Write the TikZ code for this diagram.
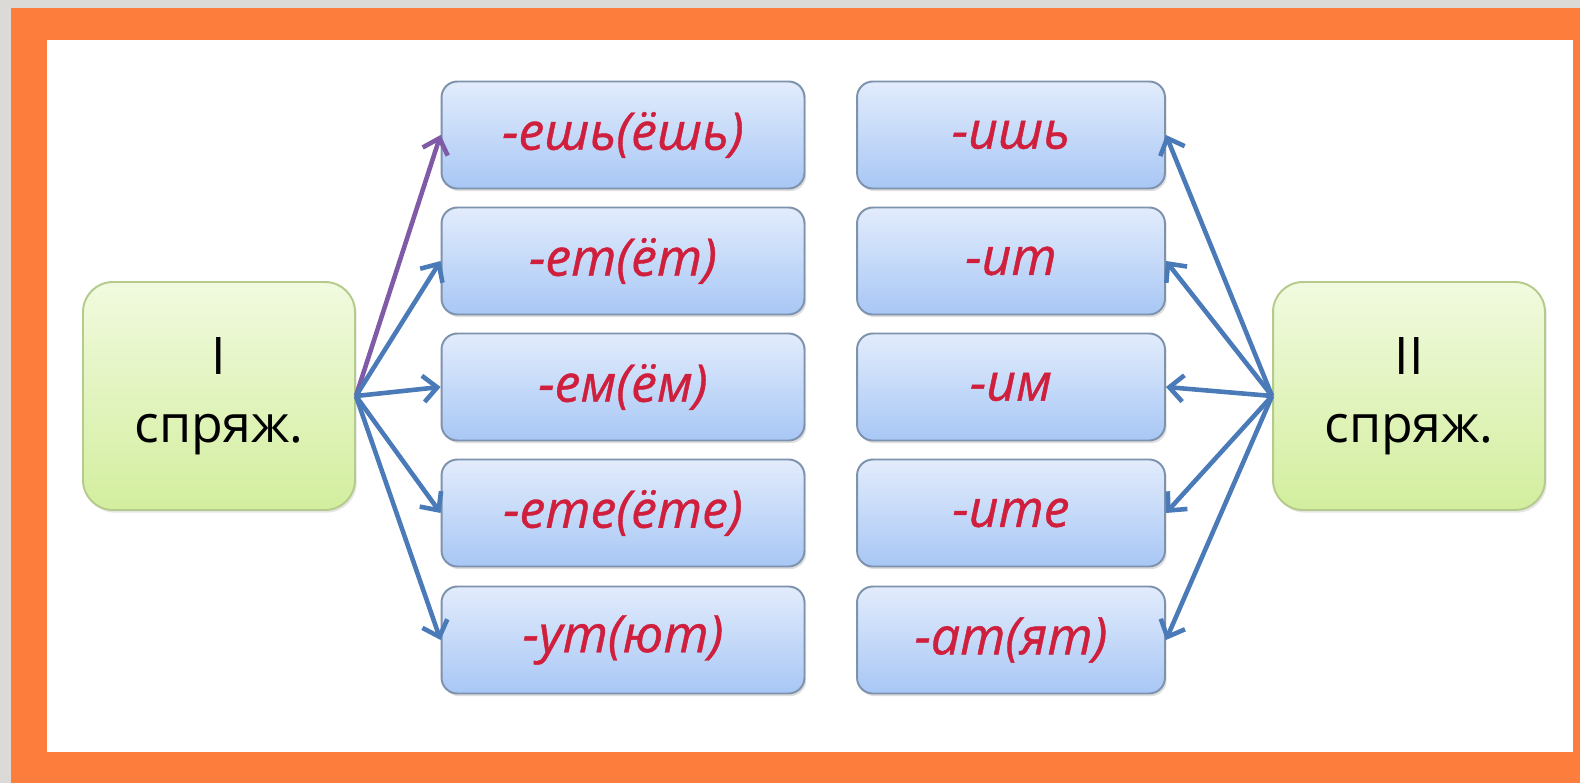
\documentclass[tikz,border=0pt]{standalone}
\usepackage{fontspec}
\setmainfont{Open Sans}
\newfontfamily\endingfont{Open Sans}[FakeBold=0.8]
\usetikzlibrary{arrows.meta,shadows}
\definecolor{bggray}{HTML}{DCDAD6}
\definecolor{frameorange}{HTML}{FD7E3C}
\definecolor{boxtop}{HTML}{E2ECFC}
\definecolor{boxbot}{HTML}{A8C7F5}
\definecolor{boxline}{HTML}{7D92AD}
\definecolor{greentop}{HTML}{F1FADF}
\definecolor{greenbot}{HTML}{D3EE9E}
\definecolor{greenline}{HTML}{B4CB8C}
\definecolor{endred}{HTML}{CF1F3C}
\definecolor{arrowblue}{HTML}{4A7AB7}
\definecolor{arrowpurple}{HTML}{7F5AA6}
\begin{document}
\begin{tikzpicture}[x=0.02cm,y=-0.02cm,
  ending/.style={draw=boxline, line width=1.1pt, rounded corners=9pt,
    top color=boxtop, bottom color=boxbot, minimum height=2.14cm,
    text=endred, font=\endingfont\itshape\fontsize{29.5}{34}\selectfont,
    drop shadow={shadow xshift=1pt, shadow yshift=-1.5pt, opacity=0.25}},
  conj/.style={draw=greenline, line width=1.1pt, rounded corners=17pt,
    top color=greentop, bottom color=greenbot, minimum width=5.44cm,
    minimum height=4.56cm, align=center, font=\fontsize{29.5}{39}\selectfont,
    drop shadow={shadow xshift=1pt, shadow yshift=-1.5pt, opacity=0.2}},
  link/.style={line width=2.6pt, draw=arrowblue,
    -{Straight Barb[length=8pt,width=15pt,line width=2.6pt]}}]
  % Frame
  \fill[bggray] (0,0) rectangle (1580,783);
  \fill[frameorange] (11,8) rectangle (1580,783);
  \fill[white] (47,40) rectangle (1573,752);
  % Conjugations
  \node[conj] (I) at (219,396) {I\\спряж.};
  \node[conj] (II) at (1409,396) {II\\спряж.};
  % Endings
  \foreach \n/\e/\y in {1/-ешь(ёшь)/135, 2/-ет(ёт)/261, 3/-ем(ём)/387, 4/-ете(ёте)/513, 5/-ут(ют)/640} {
    \node[ending, minimum width=7.26cm] (a\n) at (623,\y) {\e};
  }
  \foreach \n/\e/\y in {1/-ишь/135, 2/-ит/261, 3/-им/387, 4/-ите/513, 5/-ат(ят)/640} {
    \node[ending, minimum width=6.16cm] (b\n) at (1011,\y) {\e};
  }
  % Arrows
  \draw[link, draw=arrowpurple] (I.east) -- (a1.west);
  \foreach \n in {2,...,5} {
    \draw[link] (I.east) -- (a\n.west);
  }
  \foreach \n in {1,...,5} {
    \draw[link] (II.west) -- (b\n.east);
  }
\end{tikzpicture}
\end{document}
